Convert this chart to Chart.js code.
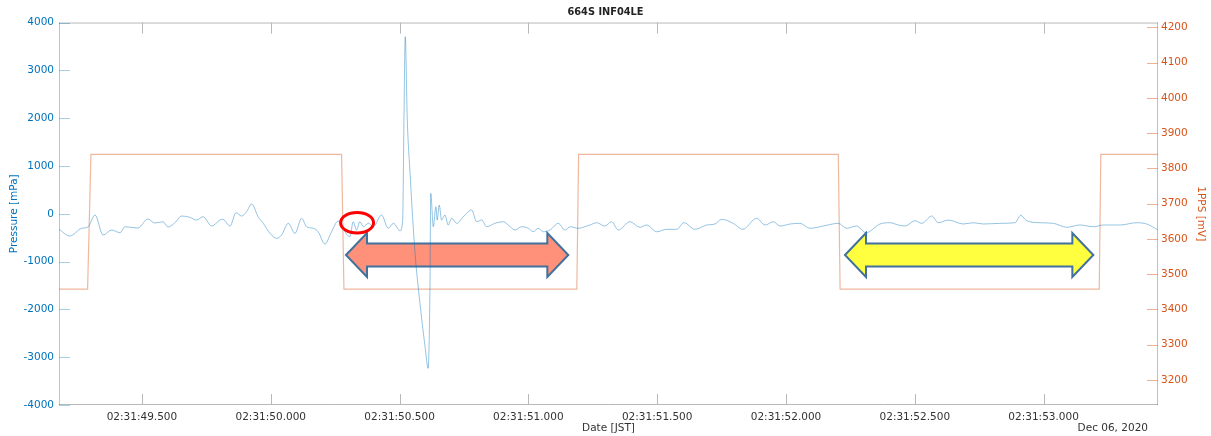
<!DOCTYPE html>
<html>
<head>
<meta charset="utf-8">
<title>664S INF04LE</title>
<script src="https://cdn.jsdelivr.net/npm/chart.js@4.4.0/dist/chart.umd.min.js"></script>
<style>
    html, body { margin: 0; padding: 0; background: #fff; }
    #wrap { width: 1211px; height: 436px; position: relative; }
</style>
</head>
<body>
<div id="wrap"><canvas id="pressure-chart"></canvas></div>
<script>
// time is seconds after 02:31:49 JST
const pressureTime = [
    0.178, 0.220, 0.266, 0.290, 0.318, 0.349, 0.382, 0.415, 0.434, 0.484,
    0.523, 0.550, 0.582, 0.601, 0.628, 0.654, 0.686, 0.712, 0.737, 0.771,
    0.803, 0.814, 0.842, 0.865, 0.887, 0.906, 0.926, 0.951, 0.971, 0.997,
    1.023, 1.042, 1.068, 1.094, 1.120, 1.139, 1.165, 1.184, 1.210, 1.236,
    1.262, 1.281, 1.307, 1.320, 1.333, 1.346, 1.359, 1.379, 1.398, 1.430,
    1.456, 1.476, 1.502, 1.512, 1.517, 1.522, 1.530, 1.540, 1.560, 1.579,
    1.599, 1.611, 1.618, 1.621, 1.631, 1.641, 1.646, 1.654, 1.663, 1.676,
    1.689, 1.702, 1.722, 1.747, 1.780, 1.799, 1.819, 1.838, 1.870, 1.903,
    1.929, 1.948, 1.974, 2.000, 2.019, 2.038, 2.058, 2.084, 2.116, 2.142,
    2.162, 2.194, 2.220, 2.239, 2.265, 2.297, 2.323, 2.349, 2.394, 2.433,
    2.459, 2.498, 2.537, 2.576, 2.604, 2.647, 2.692, 2.724, 2.750, 2.795,
    2.832, 2.886, 2.919, 2.951, 2.977, 3.016, 3.054, 3.093, 3.145, 3.203,
    3.236, 3.274, 3.311, 3.365, 3.404, 3.436, 3.462, 3.501, 3.527, 3.566,
    3.591, 3.630, 3.688, 3.727, 3.766, 3.831, 3.889, 3.911, 3.934, 3.986,
    4.038, 4.090, 4.141, 4.193, 4.232, 4.297, 4.361, 4.400, 4.444
];
const pressureValues = [
    -325, -465, -304, -277, -26, -445, -340, -396, -271, -298,
    -110, -194, -166, -277, -187, -47, -74, -131, -62, -256,
    -131, -116, -256, 22, -47, 43, 204, -62, -200, -409,
    -514, -445, -200, -409, -95, -271, -304, -376, -633, -376,
    -150, -319, -480, -166, -340, -166, -271, -200, -271, -26,
    -304, -200, -355, -131, 1961, 3704, 1961, 915, -821, -1867,
    -2781, -3233, -1526, 428, -271, 147, -131, 183, -131, -26,
    -235, -95, -200, -62, 78, -166, -131, -271, -200, -166,
    -271, -340, -271, -304, -376, -304, -376, -340, -200, -340,
    -271, -304, -270, -235, -187, -256, -166, -340, -166, -283,
    -235, -376, -325, -325, -187, -325, -235, -214, -116, -200,
    -325, -95, -235, -166, -256, -214, -200, -304, -256, -200,
    -304, -256, -396, -214, -187, -235, -256, -145, -200, -47,
    -187, -131, -214, -187, -214, -200, -187, -32, -145, -187,
    -200, -283, -235, -271, -235, -235, -187, -214, -340
];

// 1PPS reference signal
const ppsTime = [0.178, 0.289, 0.302, 1.275, 1.284, 2.188, 2.195, 3.203, 3.210, 4.216, 4.222, 4.444];
const ppsValues = [3458, 3458, 3840, 3840, 3458, 3458, 3840, 3840, 3458, 3458, 3840, 3840];

const timeTicks = [0.5, 1.0, 1.5, 2.0, 2.5, 3.0, 3.5, 4.0];
const pressureTicks = [-4000, -3000, -2000, -1000, 0, 1000, 2000, 3000, 4000];
const ppsTicks = [3200, 3300, 3400, 3500, 3600, 3700, 3800, 3900, 4000, 4100, 4200];

// hand-drawn markups (data coordinates)
const arrowMarks = [
    { from: 1.292, to: 2.155, level: -863, fill: '#ff917a' },
    { from: 3.229, to: 4.193, level: -863, fill: '#ffff40' }
];
const circleMark = { t: 1.335, level: -187 };

const FONT = 'DejaVu Sans';
const BLUE = '#0072BD';
const ORANGE = '#D95319';

// Axis frame with inward ticks, like the original plot
const axisFrame = {
    id: 'axisFrame',
    afterDatasetsDraw(chart) {
        const { ctx, chartArea: a, scales } = chart;
        const len = 11;
        ctx.save();
        ctx.lineWidth = 1;

        ctx.strokeStyle = '#b8b8b8';
        ctx.beginPath();
        ctx.moveTo(a.left, a.top + 0.5);
        ctx.lineTo(a.right, a.top + 0.5);
        ctx.moveTo(a.left, a.bottom - 0.5);
        ctx.lineTo(a.right, a.bottom - 0.5);
        scales.x.ticks.forEach(t => {
            const px = Math.round(scales.x.getPixelForValue(t.value)) + 0.5;
            ctx.moveTo(px, a.top);
            ctx.lineTo(px, a.top + len);
            ctx.moveTo(px, a.bottom);
            ctx.lineTo(px, a.bottom - len);
        });
        ctx.stroke();

        ctx.strokeStyle = 'rgba(0, 114, 189, 0.35)';
        ctx.beginPath();
        ctx.moveTo(a.left + 0.5, a.top);
        ctx.lineTo(a.left + 0.5, a.bottom);
        scales.y.ticks.forEach(t => {
            const py = Math.round(scales.y.getPixelForValue(t.value)) + 0.5;
            ctx.moveTo(a.left, py);
            ctx.lineTo(a.left + len, py);
        });
        ctx.stroke();

        ctx.strokeStyle = 'rgba(217, 83, 25, 0.45)';
        ctx.beginPath();
        ctx.moveTo(a.right - 0.5, a.top);
        ctx.lineTo(a.right - 0.5, a.bottom);
        scales.y2.ticks.forEach(t => {
            const py = Math.round(scales.y2.getPixelForValue(t.value)) + 0.5;
            ctx.moveTo(a.right, py);
            ctx.lineTo(a.right - len, py);
        });
        ctx.stroke();

        // date stamp under the right end of the axis
        ctx.fillStyle = '#333';
        ctx.font = '10.5px ' + FONT;
        ctx.textAlign = 'right';
        ctx.textBaseline = 'middle';
        ctx.fillText('Dec 06, 2020', a.right - 10, 428);
        ctx.restore();
    }
};

function drawArrow(ctx, x1, x2, y, fill) {
    const head = 21, hh = 22, sh = 11.5;
    ctx.beginPath();
    ctx.moveTo(x1, y);
    ctx.lineTo(x1 + head, y - hh);
    ctx.lineTo(x1 + head, y - sh);
    ctx.lineTo(x2 - head, y - sh);
    ctx.lineTo(x2 - head, y - hh);
    ctx.lineTo(x2, y);
    ctx.lineTo(x2 - head, y + hh);
    ctx.lineTo(x2 - head, y + sh);
    ctx.lineTo(x1 + head, y + sh);
    ctx.lineTo(x1 + head, y + hh);
    ctx.closePath();
    ctx.fillStyle = fill;
    ctx.fill();
    ctx.lineWidth = 2;
    ctx.strokeStyle = '#41719c';
    ctx.lineJoin = 'miter';
    ctx.stroke();
}

const markups = {
    id: 'markups',
    beforeDatasetsDraw(chart) {
        const { ctx, scales } = chart;
        ctx.save();
        arrowMarks.forEach(m => {
            drawArrow(ctx, scales.x.getPixelForValue(m.from), scales.x.getPixelForValue(m.to),
                scales.y.getPixelForValue(m.level), m.fill);
        });
        ctx.restore();
    },
    afterDatasetsDraw(chart) {
        const { ctx, scales } = chart;
        ctx.save();
        ctx.beginPath();
        ctx.ellipse(scales.x.getPixelForValue(circleMark.t), scales.y.getPixelForValue(circleMark.level),
            16.5, 10.3, 0, 0, Math.PI * 2);
        ctx.lineWidth = 3;
        ctx.strokeStyle = '#ff0000';
        ctx.stroke();
        ctx.restore();
    }
};

const ctx = document.getElementById('pressure-chart').getContext('2d');

new Chart(ctx, {
    type: 'line',
    data: {
        datasets: [{
            label: 'Pressure',
            data: pressureTime.map((t, i) => ({ x: t, y: pressureValues[i] })),
            yAxisID: 'y',
            borderColor: 'rgba(0, 114, 189, 0.42)',
            borderWidth: 1,
            pointRadius: 0,
            cubicInterpolationMode: 'monotone',
            fill: false
        }, {
            label: '1PPS',
            data: ppsTime.map((t, i) => ({ x: t, y: ppsValues[i] })),
            yAxisID: 'y2',
            borderColor: 'rgba(217, 83, 25, 0.42)',
            borderWidth: 1.2,
            pointRadius: 0,
            tension: 0,
            fill: false
        }]
    },
    options: {
        responsive: true,
        maintainAspectRatio: false,
        animation: false,
        devicePixelRatio: 1,
        layout: { padding: 0 },
        plugins: {
            legend: { display: false },
            tooltip: { enabled: false },
            title: {
                display: true,
                text: '664S INF04LE',
                color: '#222',
                font: { family: FONT, size: 9.8, weight: 'bold' },
                padding: { top: 6.5, bottom: 4.3 }
            }
        },
        scales: {
            x: {
                type: 'linear',
                position: 'bottom',
                min: 0.178,
                max: 4.444,
                afterBuildTicks: axis => { axis.ticks = timeTicks.map(v => ({ value: v })); },
                afterFit: axis => { axis.height = 31; },
                grid: { display: false, drawTicks: false },
                border: { display: false },
                ticks: {
                    autoSkip: false,
                    maxRotation: 0,
                    padding: 6,
                    color: '#333',
                    font: { family: FONT, size: 10.5 },
                    callback: v => '02:31:' + (49 + v).toFixed(3)
                },
                title: {
                    display: true,
                    text: 'Date [JST]',
                    color: '#333',
                    font: { family: FONT, size: 10.5 },
                    padding: { top: 0, bottom: 1 }
                }
            },
            y: {
                position: 'left',
                min: -4000,
                max: 4000,
                afterBuildTicks: axis => { axis.ticks = pressureTicks.map(v => ({ value: v })); },
                afterFit: axis => { axis.width = 59; },
                grid: { display: false, drawTicks: false },
                border: { display: false },
                ticks: {
                    padding: 5,
                    color: BLUE,
                    font: { family: FONT, size: 10.5 },
                    callback: v => String(v)
                },
                title: {
                    display: true,
                    text: 'Pressure [mPa]',
                    color: BLUE,
                    font: { family: FONT, size: 10.5 },
                    padding: { top: 7.5, bottom: 0 }
                }
            },
            y2: {
                position: 'right',
                min: 3129,
                max: 4214,
                afterBuildTicks: axis => { axis.ticks = ppsTicks.map(v => ({ value: v })); },
                afterFit: axis => { axis.width = 53; },
                grid: { display: false, drawTicks: false },
                border: { display: false },
                ticks: {
                    padding: 3,
                    color: ORANGE,
                    font: { family: FONT, size: 10.5 },
                    callback: v => String(v)
                },
                title: {
                    display: true,
                    text: '1PPS [mV]',
                    color: ORANGE,
                    font: { family: FONT, size: 10.5 },
                    padding: { top: 3.7, bottom: 0 }
                }
            }
        }
    },
    plugins: [markups, axisFrame]
});
</script>
</body>
</html>
